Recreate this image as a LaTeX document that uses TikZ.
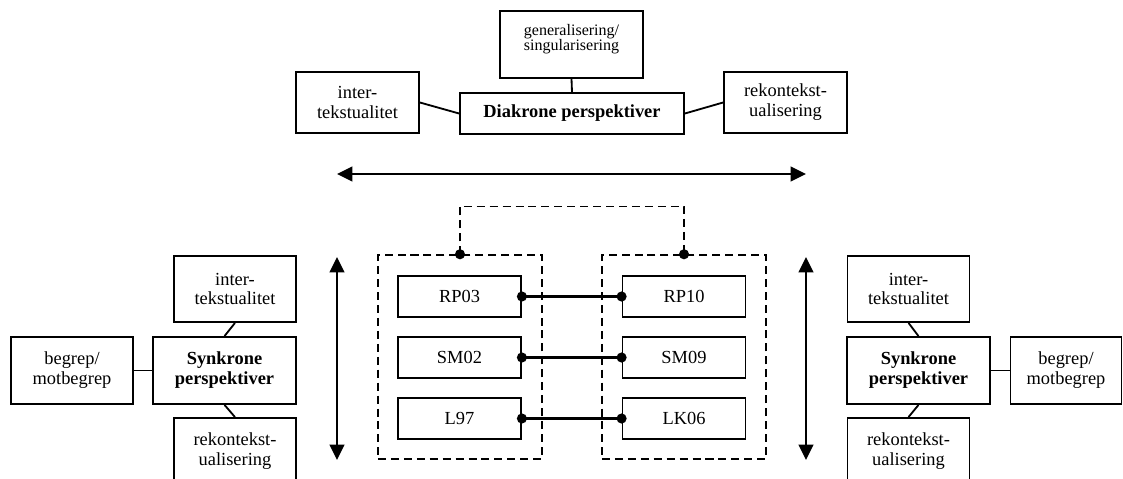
\documentclass[tikz,border=0pt]{standalone}
\usepackage{fontspec}
\setmainfont{Liberation Serif}
\usetikzlibrary{arrows.meta,positioning}
\tikzset{
    termbox/.style={
        draw,line width=1.25pt,align=center,inner sep=2pt,
        font=\fontsize{13.1}{14.2}\selectfont
    },
    headbox/.style={
        termbox,font=\fontsize{13.1}{14.2}\selectfont\bfseries
    },
    planbox/.style={
        termbox,minimum width=3.075cm,minimum height=1.025cm
    },
    groupbox/.style={
        draw,line width=1pt,dash pattern=on 5.7pt off 3.5pt,
        minimum width=4.1cm,minimum height=5.1cm
    },
    linkline/.style={line width=1.3pt},
    pairline/.style={line width=1.8pt},
    spanarrow/.style={
        {Triangle[length=11pt,width=10.5pt]}-{Triangle[length=11pt,width=10.5pt]},
        line width=1.5pt
    }
}

\begin{document}
\begin{tikzpicture}[x=0.025cm,y=-0.025cm]

\clip (0,0) rectangle (1123,479);

% diakront
\node[termbox,minimum width=3.575cm,minimum height=1.675cm,
font=\fontsize{11.4}{11}\selectfont,text depth=10pt]
(gen) at (571.5,44.5) {generalisering/\\singularisering};
\node[headbox,minimum width=5.6cm,minimum height=1.025cm]
(dia) at (572,113.5) {Diakrone perspektiver};
\node[termbox,minimum width=3.075cm,minimum height=1.525cm]
(intT) at (357.5,102.5) {inter-\\tekstualitet};
\node[termbox,minimum width=3.075cm,minimum height=1.525cm]
(rekT) at (785.5,102.5) {rekontekst-\\ualisering};

\draw[linkline] (gen.south) -- (dia.north);
\draw[linkline] (intT.east) -- (dia.west);
\draw[linkline] (dia.east) -- (rekT.west);

\coordinate (ha1) at (337,174);
\coordinate (ha2) at (806,174);
\draw[spanarrow] (ha1) -- (ha2);

% planene
\node[groupbox] (frL) at (460,357) {};
\node[groupbox] (frR) at (684,357) {};
\draw[line width=1pt,dash pattern=on 5.7pt off 3.5pt]
(frL.north) -- ++(0,-48) -| (frR.north);
\fill (frL.north) circle[radius=3.6pt];
\fill (frR.north) circle[radius=3.6pt];

\node[planbox] (rp03) at (459.5,296.5) {RP03};
\node[planbox] (sm02) at (459.5,357.5) {SM02};
\node[planbox] (l97) at (459.5,418.5) {L97};
\node[planbox] (rp10) at (684,296.5) {RP10};
\node[planbox] (sm09) at (684,357.5) {SM09};
\node[planbox] (lk06) at (684,418.5) {LK06};

\foreach \a/\b in {rp03/rp10,sm02/sm09,l97/lk06}{
    \draw[pairline] (\a.east) -- (\b.west);
    \fill (\a.east) circle[radius=3.6pt];
    \fill (\b.west) circle[radius=3.6pt];
}

\coordinate (vl1) at (337,257);
\coordinate (vl2) at (337,460);
\coordinate (vr1) at (806,257);
\coordinate (vr2) at (806,460);
\draw[spanarrow] (vl1) -- (vl2);
\draw[spanarrow] (vr1) -- (vr2);

% synkront, venstre
\node[headbox,minimum width=3.575cm,minimum height=1.675cm]
(synL) at (224.5,370.5) {Synkrone\\perspektiver};
\node[termbox,minimum width=3.05cm,minimum height=1.675cm]
(begL) at (72,370.5) {begrep/\\motbegrep};
\node[termbox,minimum width=3.05cm,minimum height=1.65cm]
(intL) at (235,289) {inter-\\tekstualitet};
\node[termbox,minimum width=3.05cm,minimum height=1.65cm]
(rekL) at (235,451) {rekontekst-\\ualisering};

\draw[linkline] (begL.east) -- (synL.west);
\draw[linkline] (intL.south) -- (synL.north);
\draw[linkline] (synL.south) -- (rekL.north);

% synkront, hoeyre
\node[headbox,minimum width=3.575cm,minimum height=1.675cm]
(synR) at (918.5,370.5) {Synkrone\\perspektiver};
\node[termbox,minimum width=2.775cm,minimum height=1.675cm]
(begR) at (1066,370.5) {begrep/\\motbegrep};
\node[termbox,minimum width=3.05cm,minimum height=1.65cm]
(intR) at (908.5,289) {inter-\\tekstualitet};
\node[termbox,minimum width=3.05cm,minimum height=1.65cm]
(rekR) at (908.5,451) {rekontekst-\\ualisering};

\draw[linkline] (synR.east) -- (begR.west);
\draw[linkline] (intR.south) -- (synR.north);
\draw[linkline] (synR.south) -- (rekR.north);

\end{tikzpicture}
\end{document}
